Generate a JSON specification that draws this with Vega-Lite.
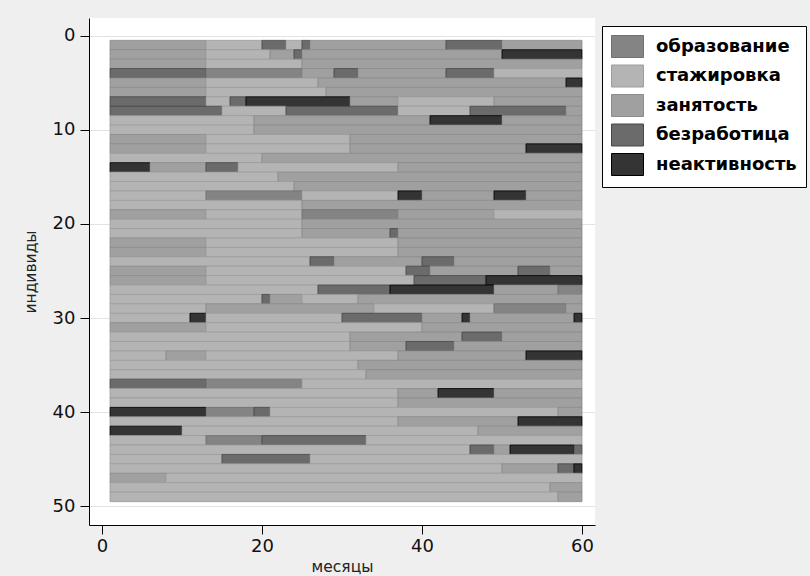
{
  "$schema": "https://vega.github.io/schema/vega-lite/v6.json",
  "width": 506,
  "height": 507,
  "autosize": {"type": "none"},
  "padding": {"left": 89, "top": 18, "right": 215, "bottom": 51},
  "background": "#efefef",
  "config": {
    "view": {"fill": "#ffffff", "stroke": null},
    "axis": {
      "labelFont": "DejaVu Sans",
      "labelFontSize": 18,
      "labelColor": "#111111",
      "tickColor": "#000000",
      "domainColor": "#000000",
      "tickSize": 9,
      "titleFont": "DejaVu Sans",
      "titleFontSize": 15.5,
      "titleFontWeight": "normal",
      "titleColor": "#222222"
    }
  },
  "data": {
    "values": [
      {"ind": 1, "from": 1, "to": 13, "state": "занятость"},
      {"ind": 1, "from": 13, "to": 20, "state": "стажировка"},
      {"ind": 1, "from": 20, "to": 23, "state": "безработица"},
      {"ind": 1, "from": 23, "to": 25, "state": "стажировка"},
      {"ind": 1, "from": 25, "to": 26, "state": "безработица"},
      {"ind": 1, "from": 26, "to": 43, "state": "занятость"},
      {"ind": 1, "from": 43, "to": 50, "state": "безработица"},
      {"ind": 1, "from": 50, "to": 60, "state": "занятость"},
      {"ind": 2, "from": 1, "to": 13, "state": "занятость"},
      {"ind": 2, "from": 13, "to": 21, "state": "стажировка"},
      {"ind": 2, "from": 21, "to": 24, "state": "занятость"},
      {"ind": 2, "from": 24, "to": 25, "state": "безработица"},
      {"ind": 2, "from": 25, "to": 50, "state": "занятость"},
      {"ind": 2, "from": 50, "to": 60, "state": "неактивность"},
      {"ind": 3, "from": 1, "to": 13, "state": "занятость"},
      {"ind": 3, "from": 13, "to": 25, "state": "стажировка"},
      {"ind": 3, "from": 25, "to": 60, "state": "занятость"},
      {"ind": 4, "from": 1, "to": 13, "state": "безработица"},
      {"ind": 4, "from": 13, "to": 25, "state": "образование"},
      {"ind": 4, "from": 25, "to": 29, "state": "занятость"},
      {"ind": 4, "from": 29, "to": 32, "state": "безработица"},
      {"ind": 4, "from": 32, "to": 43, "state": "занятость"},
      {"ind": 4, "from": 43, "to": 49, "state": "безработица"},
      {"ind": 4, "from": 49, "to": 60, "state": "стажировка"},
      {"ind": 5, "from": 1, "to": 13, "state": "занятость"},
      {"ind": 5, "from": 13, "to": 27, "state": "стажировка"},
      {"ind": 5, "from": 27, "to": 58, "state": "занятость"},
      {"ind": 5, "from": 58, "to": 60, "state": "неактивность"},
      {"ind": 6, "from": 1, "to": 13, "state": "занятость"},
      {"ind": 6, "from": 13, "to": 28, "state": "стажировка"},
      {"ind": 6, "from": 28, "to": 60, "state": "занятость"},
      {"ind": 7, "from": 1, "to": 13, "state": "безработица"},
      {"ind": 7, "from": 13, "to": 16, "state": "стажировка"},
      {"ind": 7, "from": 16, "to": 18, "state": "безработица"},
      {"ind": 7, "from": 18, "to": 31, "state": "неактивность"},
      {"ind": 7, "from": 31, "to": 37, "state": "занятость"},
      {"ind": 7, "from": 37, "to": 49, "state": "стажировка"},
      {"ind": 7, "from": 49, "to": 60, "state": "занятость"},
      {"ind": 8, "from": 1, "to": 15, "state": "безработица"},
      {"ind": 8, "from": 15, "to": 23, "state": "стажировка"},
      {"ind": 8, "from": 23, "to": 37, "state": "безработица"},
      {"ind": 8, "from": 37, "to": 46, "state": "стажировка"},
      {"ind": 8, "from": 46, "to": 58, "state": "безработица"},
      {"ind": 8, "from": 58, "to": 60, "state": "занятость"},
      {"ind": 9, "from": 1, "to": 19, "state": "стажировка"},
      {"ind": 9, "from": 19, "to": 41, "state": "занятость"},
      {"ind": 9, "from": 41, "to": 50, "state": "неактивность"},
      {"ind": 9, "from": 50, "to": 60, "state": "занятость"},
      {"ind": 10, "from": 1, "to": 19, "state": "стажировка"},
      {"ind": 10, "from": 19, "to": 60, "state": "занятость"},
      {"ind": 11, "from": 1, "to": 13, "state": "занятость"},
      {"ind": 11, "from": 13, "to": 31, "state": "стажировка"},
      {"ind": 11, "from": 31, "to": 60, "state": "занятость"},
      {"ind": 12, "from": 1, "to": 13, "state": "занятость"},
      {"ind": 12, "from": 13, "to": 31, "state": "стажировка"},
      {"ind": 12, "from": 31, "to": 53, "state": "занятость"},
      {"ind": 12, "from": 53, "to": 60, "state": "неактивность"},
      {"ind": 13, "from": 1, "to": 20, "state": "стажировка"},
      {"ind": 13, "from": 20, "to": 60, "state": "занятость"},
      {"ind": 14, "from": 1, "to": 6, "state": "неактивность"},
      {"ind": 14, "from": 6, "to": 13, "state": "занятость"},
      {"ind": 14, "from": 13, "to": 17, "state": "безработица"},
      {"ind": 14, "from": 17, "to": 37, "state": "стажировка"},
      {"ind": 14, "from": 37, "to": 60, "state": "занятость"},
      {"ind": 15, "from": 1, "to": 22, "state": "стажировка"},
      {"ind": 15, "from": 22, "to": 60, "state": "занятость"},
      {"ind": 16, "from": 1, "to": 24, "state": "стажировка"},
      {"ind": 16, "from": 24, "to": 60, "state": "занятость"},
      {"ind": 17, "from": 1, "to": 13, "state": "стажировка"},
      {"ind": 17, "from": 13, "to": 25, "state": "образование"},
      {"ind": 17, "from": 25, "to": 37, "state": "стажировка"},
      {"ind": 17, "from": 37, "to": 40, "state": "неактивность"},
      {"ind": 17, "from": 40, "to": 49, "state": "занятость"},
      {"ind": 17, "from": 49, "to": 53, "state": "неактивность"},
      {"ind": 17, "from": 53, "to": 60, "state": "занятость"},
      {"ind": 18, "from": 1, "to": 25, "state": "стажировка"},
      {"ind": 18, "from": 25, "to": 60, "state": "занятость"},
      {"ind": 19, "from": 1, "to": 13, "state": "занятость"},
      {"ind": 19, "from": 13, "to": 25, "state": "стажировка"},
      {"ind": 19, "from": 25, "to": 37, "state": "образование"},
      {"ind": 19, "from": 37, "to": 49, "state": "занятость"},
      {"ind": 19, "from": 49, "to": 60, "state": "стажировка"},
      {"ind": 20, "from": 1, "to": 25, "state": "стажировка"},
      {"ind": 20, "from": 25, "to": 60, "state": "занятость"},
      {"ind": 21, "from": 1, "to": 25, "state": "стажировка"},
      {"ind": 21, "from": 25, "to": 36, "state": "занятость"},
      {"ind": 21, "from": 36, "to": 37, "state": "безработица"},
      {"ind": 21, "from": 37, "to": 60, "state": "занятость"},
      {"ind": 22, "from": 1, "to": 13, "state": "занятость"},
      {"ind": 22, "from": 13, "to": 37, "state": "стажировка"},
      {"ind": 22, "from": 37, "to": 60, "state": "занятость"},
      {"ind": 23, "from": 1, "to": 13, "state": "занятость"},
      {"ind": 23, "from": 13, "to": 37, "state": "стажировка"},
      {"ind": 23, "from": 37, "to": 60, "state": "занятость"},
      {"ind": 24, "from": 1, "to": 26, "state": "стажировка"},
      {"ind": 24, "from": 26, "to": 29, "state": "безработица"},
      {"ind": 24, "from": 29, "to": 40, "state": "занятость"},
      {"ind": 24, "from": 40, "to": 44, "state": "безработица"},
      {"ind": 24, "from": 44, "to": 60, "state": "занятость"},
      {"ind": 25, "from": 1, "to": 13, "state": "занятость"},
      {"ind": 25, "from": 13, "to": 38, "state": "стажировка"},
      {"ind": 25, "from": 38, "to": 41, "state": "безработица"},
      {"ind": 25, "from": 41, "to": 52, "state": "занятость"},
      {"ind": 25, "from": 52, "to": 56, "state": "безработица"},
      {"ind": 25, "from": 56, "to": 60, "state": "занятость"},
      {"ind": 26, "from": 1, "to": 13, "state": "занятость"},
      {"ind": 26, "from": 13, "to": 39, "state": "стажировка"},
      {"ind": 26, "from": 39, "to": 48, "state": "безработица"},
      {"ind": 26, "from": 48, "to": 60, "state": "неактивность"},
      {"ind": 27, "from": 1, "to": 27, "state": "стажировка"},
      {"ind": 27, "from": 27, "to": 36, "state": "безработица"},
      {"ind": 27, "from": 36, "to": 49, "state": "неактивность"},
      {"ind": 27, "from": 49, "to": 57, "state": "занятость"},
      {"ind": 27, "from": 57, "to": 60, "state": "образование"},
      {"ind": 28, "from": 1, "to": 20, "state": "стажировка"},
      {"ind": 28, "from": 20, "to": 21, "state": "безработица"},
      {"ind": 28, "from": 21, "to": 25, "state": "занятость"},
      {"ind": 28, "from": 25, "to": 32, "state": "стажировка"},
      {"ind": 28, "from": 32, "to": 60, "state": "занятость"},
      {"ind": 29, "from": 1, "to": 13, "state": "стажировка"},
      {"ind": 29, "from": 13, "to": 34, "state": "занятость"},
      {"ind": 29, "from": 34, "to": 49, "state": "стажировка"},
      {"ind": 29, "from": 49, "to": 58, "state": "образование"},
      {"ind": 29, "from": 58, "to": 60, "state": "занятость"},
      {"ind": 30, "from": 1, "to": 11, "state": "стажировка"},
      {"ind": 30, "from": 11, "to": 13, "state": "неактивность"},
      {"ind": 30, "from": 13, "to": 30, "state": "стажировка"},
      {"ind": 30, "from": 30, "to": 40, "state": "безработица"},
      {"ind": 30, "from": 40, "to": 45, "state": "занятость"},
      {"ind": 30, "from": 45, "to": 46, "state": "неактивность"},
      {"ind": 30, "from": 46, "to": 59, "state": "занятость"},
      {"ind": 30, "from": 59, "to": 60, "state": "неактивность"},
      {"ind": 31, "from": 1, "to": 13, "state": "занятость"},
      {"ind": 31, "from": 13, "to": 40, "state": "стажировка"},
      {"ind": 31, "from": 40, "to": 60, "state": "занятость"},
      {"ind": 32, "from": 1, "to": 31, "state": "стажировка"},
      {"ind": 32, "from": 31, "to": 45, "state": "занятость"},
      {"ind": 32, "from": 45, "to": 50, "state": "безработица"},
      {"ind": 32, "from": 50, "to": 60, "state": "занятость"},
      {"ind": 33, "from": 1, "to": 31, "state": "стажировка"},
      {"ind": 33, "from": 31, "to": 38, "state": "занятость"},
      {"ind": 33, "from": 38, "to": 44, "state": "безработица"},
      {"ind": 33, "from": 44, "to": 60, "state": "занятость"},
      {"ind": 34, "from": 1, "to": 8, "state": "стажировка"},
      {"ind": 34, "from": 8, "to": 13, "state": "занятость"},
      {"ind": 34, "from": 13, "to": 37, "state": "стажировка"},
      {"ind": 34, "from": 37, "to": 53, "state": "занятость"},
      {"ind": 34, "from": 53, "to": 60, "state": "неактивность"},
      {"ind": 35, "from": 1, "to": 32, "state": "стажировка"},
      {"ind": 35, "from": 32, "to": 60, "state": "занятость"},
      {"ind": 36, "from": 1, "to": 33, "state": "стажировка"},
      {"ind": 36, "from": 33, "to": 60, "state": "занятость"},
      {"ind": 37, "from": 1, "to": 13, "state": "безработица"},
      {"ind": 37, "from": 13, "to": 25, "state": "образование"},
      {"ind": 37, "from": 25, "to": 60, "state": "стажировка"},
      {"ind": 38, "from": 1, "to": 37, "state": "стажировка"},
      {"ind": 38, "from": 37, "to": 42, "state": "занятость"},
      {"ind": 38, "from": 42, "to": 49, "state": "неактивность"},
      {"ind": 38, "from": 49, "to": 60, "state": "занятость"},
      {"ind": 39, "from": 1, "to": 37, "state": "стажировка"},
      {"ind": 39, "from": 37, "to": 60, "state": "занятость"},
      {"ind": 40, "from": 1, "to": 13, "state": "неактивность"},
      {"ind": 40, "from": 13, "to": 19, "state": "образование"},
      {"ind": 40, "from": 19, "to": 21, "state": "безработица"},
      {"ind": 40, "from": 21, "to": 57, "state": "стажировка"},
      {"ind": 40, "from": 57, "to": 60, "state": "занятость"},
      {"ind": 41, "from": 1, "to": 37, "state": "стажировка"},
      {"ind": 41, "from": 37, "to": 52, "state": "занятость"},
      {"ind": 41, "from": 52, "to": 60, "state": "неактивность"},
      {"ind": 42, "from": 1, "to": 10, "state": "неактивность"},
      {"ind": 42, "from": 10, "to": 47, "state": "стажировка"},
      {"ind": 42, "from": 47, "to": 60, "state": "занятость"},
      {"ind": 43, "from": 1, "to": 13, "state": "стажировка"},
      {"ind": 43, "from": 13, "to": 20, "state": "образование"},
      {"ind": 43, "from": 20, "to": 33, "state": "безработица"},
      {"ind": 43, "from": 33, "to": 60, "state": "стажировка"},
      {"ind": 44, "from": 1, "to": 46, "state": "стажировка"},
      {"ind": 44, "from": 46, "to": 49, "state": "безработица"},
      {"ind": 44, "from": 49, "to": 51, "state": "занятость"},
      {"ind": 44, "from": 51, "to": 59, "state": "неактивность"},
      {"ind": 44, "from": 59, "to": 60, "state": "безработица"},
      {"ind": 45, "from": 1, "to": 15, "state": "стажировка"},
      {"ind": 45, "from": 15, "to": 26, "state": "безработица"},
      {"ind": 45, "from": 26, "to": 60, "state": "стажировка"},
      {"ind": 46, "from": 1, "to": 50, "state": "стажировка"},
      {"ind": 46, "from": 50, "to": 57, "state": "занятость"},
      {"ind": 46, "from": 57, "to": 59, "state": "безработица"},
      {"ind": 46, "from": 59, "to": 60, "state": "неактивность"},
      {"ind": 47, "from": 1, "to": 8, "state": "занятость"},
      {"ind": 47, "from": 8, "to": 60, "state": "стажировка"},
      {"ind": 48, "from": 1, "to": 56, "state": "стажировка"},
      {"ind": 48, "from": 56, "to": 60, "state": "занятость"},
      {"ind": 49, "from": 1, "to": 57, "state": "стажировка"},
      {"ind": 49, "from": 57, "to": 60, "state": "занятость"}
    ]
  },
  "mark": {"type": "bar", "orient": "horizontal", "height": 9.6, "strokeWidth": 0.8},
  "encoding": {
    "x": {
      "field": "from",
      "type": "quantitative",
      "scale": {"domain": [-1.625, 61.625], "nice": false, "zero": false},
      "axis": {"values": [0, 20, 40, 60], "title": "месяцы", "grid": false, "labelPadding": 3, "titlePadding": 4}
    },
    "x2": {"field": "to"},
    "y": {
      "field": "ind",
      "type": "quantitative",
      "scale": {"domain": [-1.354, 51.46], "reverse": true, "nice": false, "zero": false},
      "axis": {"values": [0, 10, 20, 30, 40, 50], "title": "индивиды", "grid": true, "gridColor": "#e3e3e3", "gridWidth": 1.2, "labelPadding": 5, "titlePadding": 14}
    },
    "color": {
      "field": "state",
      "type": "nominal",
      "scale": {
        "domain": ["образование", "стажировка", "занятость", "безработица", "неактивность"],
        "range": ["#848484", "#b4b4b4", "#a0a0a0", "#6b6b6b", "#343434"]
      },
      "legend": {
        "orient": "none",
        "legendX": 513,
        "legendY": 8,
        "title": null,
        "padding": 9,
        "fillColor": "#ffffff",
        "strokeColor": "#000000",
        "rowPadding": 2.5,
        "symbolType": "M-1.4545,-1H1.4545V1H-1.4545Z",
        "symbolSize": 484,
        "symbolOffset": 5,
        "symbolStrokeColor": "#555555",
        "symbolStrokeWidth": 1,
        "labelOffset": 17,
        "labelFont": "DejaVu Sans",
        "labelFontSize": 18,
        "labelFontWeight": "bold",
        "labelColor": "#000000",
        "labelLimit": 300
      }
    },
    "stroke": {
      "field": "state",
      "type": "nominal",
      "scale": {
        "domain": ["образование", "стажировка", "занятость", "безработица", "неактивность"],
        "range": ["#707070", "#9c9c9c", "#8c8c8c", "#474747", "#000000"]
      },
      "legend": null
    }
  }
}
